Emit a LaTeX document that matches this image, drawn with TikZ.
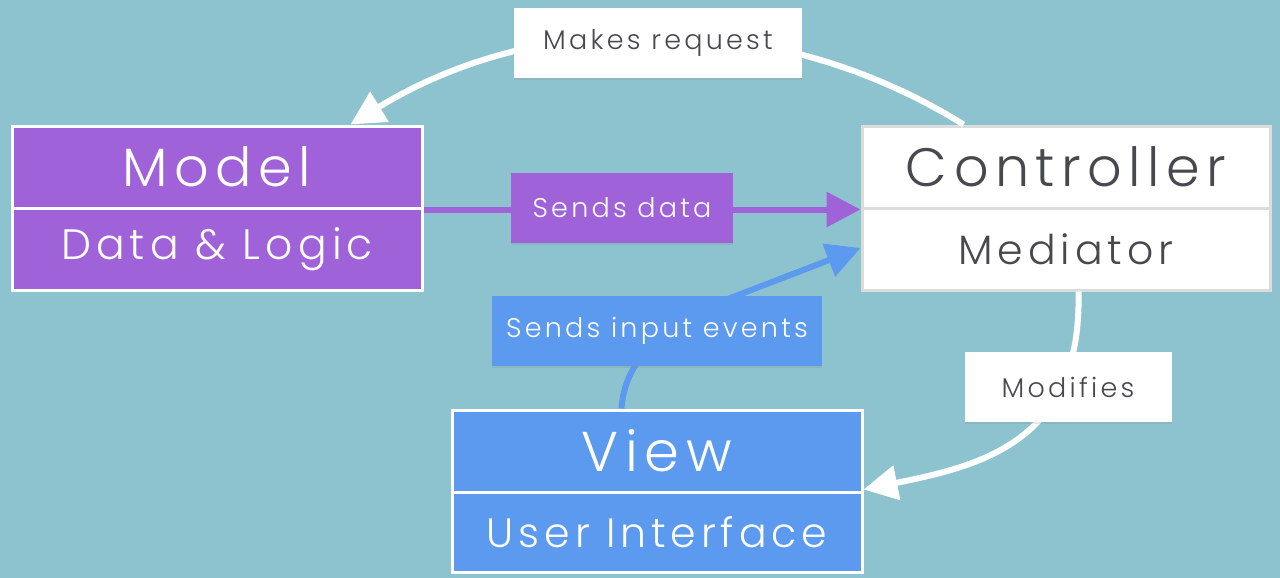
\documentclass[tikz,border=0pt]{standalone}
\usepackage{fontspec}
\setmainfont{Poppins}[UprightFont=* Light, LetterSpace=12]
\usetikzlibrary{arrows.meta,shadows}
\definecolor{bg}{HTML}{8DC3CE}
\definecolor{purp}{HTML}{A062D8}
\definecolor{blu}{HTML}{5B9AEE}
\definecolor{ink}{HTML}{48484F}
\definecolor{edge}{HTML}{DCDCDC}
\tikzset{
  part/.style={rectangle, inner sep=0pt, line width=3pt, minimum width=410pt, minimum height=82pt},
  mpart/.style={part, fill=purp, draw=white, text=white},
  cpart/.style={part, fill=white, draw=edge, text=ink},
  vpart/.style={part, fill=blu, draw=white, text=white},
  title/.style={font=\fontsize{54}{60}\selectfont},
  sub/.style={font=\fontsize{41}{46}\selectfont},
  lbl/.style={rectangle, inner sep=0pt, minimum height=70pt, font=\fontsize{27}{32}\selectfont,
    drop shadow={opacity=0.18, shadow xshift=0pt, shadow yshift=-2pt}},
  conn/.style={line width=6pt, -{Triangle[length=34pt,width=34pt]}},
}
\begin{document}
\begin{tikzpicture}[x=1pt,y=-1pt]
\fill[bg] (0,0) rectangle (1280,578);
\useasboundingbox (0,0) rectangle (1280,578);

% boxes
\node[mpart, title] (modelT) at (217,167) {Model};
\node[mpart, sub, font=\fontsize{42.5}{46}\selectfont] (modelB) at (217,249) {Data \& Logic};
\node[cpart, title, minimum width=408pt] (ctrlT) at (1066,167) {Controller};
\node[cpart, sub, minimum width=408pt] (ctrlB) at (1066,249) {Mediator};
\node[vpart, title, font=\fontsize{56}{60}\selectfont] (viewT) at (657,451) {View};
\node[vpart, sub, minimum height=80pt] (viewB) at (657,532) {User Interface};

% connectors
\coordinate (mrS) at ([xshift=103pt]ctrlT.north west);
\coordinate (mrE) at ([xshift=340pt]modelT.north west);
\draw[conn, white] (mrS) .. controls (777,8) and (540,8) .. (mrE);

\draw[conn, purp] (modelT.south east) -- (ctrlT.south west);

\coordinate (ieS) at ([xshift=171pt]viewT.north west);
\coordinate (ieM) at (733,297);
\coordinate (ieE) at ([yshift=1pt]ctrlB.west);
\draw[conn, blu] (ieS) .. controls (625,350) and (681,316) .. (ieM) -- (ieE);

\coordinate (mdS) at ([xshift=218pt]ctrlB.south west);
\coordinate (mdE) at ([yshift=4pt]viewT.south east);
\draw[conn, white] (mdS) .. controls (1082,440) and (985,465) .. (mdE);

% labels
\node[lbl, fill=white, text=ink, minimum width=288pt] (lMR) at (658,43) {Makes request};
\node[lbl, fill=purp, text=white, minimum width=222pt] (lSD) at (622,208) {Sends data};
\node[lbl, fill=blu, text=white, minimum width=330pt] (lIE) at (657,331) {Sends input events};
\node[lbl, fill=white, text=ink, minimum width=207pt] (lMD) at (1068,387) {Modifies};
\end{tikzpicture}
\end{document}
